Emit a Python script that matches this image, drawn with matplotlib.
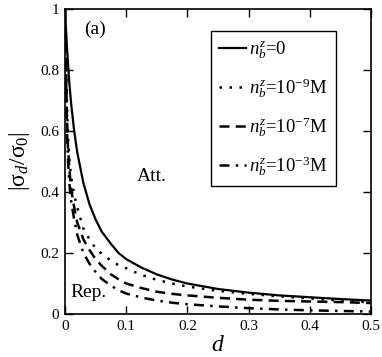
import matplotlib
matplotlib.use("Agg")
import matplotlib.pyplot as plt

plt.rcParams['font.family'] = ['Liberation Serif', 'DejaVu Serif']
plt.rcParams['mathtext.fontset'] = 'custom'
plt.rcParams['mathtext.rm'] = 'Liberation Serif'
plt.rcParams['mathtext.it'] = 'Liberation Serif:italic'
plt.rcParams['mathtext.bf'] = 'Liberation Serif:bold'

d = [0, 0.001, 0.003, 0.005, 0.007, 0.01, 0.015, 0.02, 0.03, 0.04, 0.05, 0.06,
     0.075, 0.0875, 0.1, 0.125, 0.15, 0.175, 0.2, 0.25, 0.3, 0.35, 0.4, 0.45, 0.5]
sig_0 = [1.0, 0.96, 0.88, 0.82, 0.76, 0.69, 0.60, 0.53, 0.43, 0.36, 0.31, 0.27,
         0.23, 0.20, 0.18, 0.152, 0.13, 0.113, 0.10, 0.082, 0.070, 0.061, 0.055, 0.049, 0.044]
sig_9 = [1.0, 0.9, 0.7, 0.58, 0.51, 0.45, 0.39, 0.35, 0.28, 0.245, 0.215, 0.198,
         0.175, 0.16, 0.15, 0.128, 0.112, 0.10, 0.09, 0.076, 0.066, 0.058, 0.051, 0.044, 0.038]
sig_7 = [1.0, 0.88, 0.66, 0.54, 0.48, 0.41, 0.35, 0.30, 0.245, 0.21, 0.18, 0.158,
         0.13, 0.114, 0.10, 0.085, 0.073, 0.066, 0.061, 0.053, 0.047, 0.043, 0.041, 0.039, 0.036]
sig_3 = [1.0, 0.86, 0.62, 0.5, 0.43, 0.37, 0.31, 0.26, 0.2, 0.165, 0.138, 0.115,
         0.093, 0.078, 0.067, 0.054, 0.044, 0.037, 0.032, 0.025, 0.019, 0.015, 0.012, 0.010, 0.008]

labels = [r'$n_b^z$=0', r'$n_b^z$=10$^{-9}$M', r'$n_b^z$=10$^{-7}$M', r'$n_b^z$=10$^{-3}$M']
xticks = [0, 0.1, 0.2, 0.3, 0.4, 0.5]
xticklabels = ['0', '0.1', '0.2', '0.3', '0.4', '0.5']
yticks = [0, 0.2, 0.4, 0.6, 0.8, 1.0]
yticklabels = ['0', '0.2', '0.4', '0.6', '0.8', '1']

fig = plt.figure(figsize=(3.82, 3.57), dpi=100)
ax = fig.add_axes([65/382, 43/357, 306/382, 305/357])

ax.plot(d, sig_0, color='black', lw=1.6, linestyle='-', label=labels[0])
ax.plot(d, sig_9, color='black', lw=1.8, linestyle=(0, (1, 3)), label=labels[1])
ax.plot(d, sig_7, color='black', lw=1.8, linestyle=(0, (4, 2.5)), label=labels[2])
ax.plot(d, sig_3, color='black', lw=1.8, linestyle=(0, (4, 2.5, 1, 2.5)), label=labels[3])

ax.set_xlim(0, 0.5)
ax.set_ylim(0, 1)
ax.set_xticks(xticks)
ax.set_xticklabels(xticklabels)
ax.set_yticks(yticks)
ax.set_yticklabels(yticklabels)
ax.tick_params(direction='in', top=True, right=True, length=6, width=1,
               labelsize=11, pad=4)
for s in ax.spines.values():
    s.set_linewidth(1.2)

ax.set_xlabel(r'$d$', fontsize=17, labelpad=2)
ax.set_ylabel(r'|σ$_d$/σ$_0$|', fontsize=17, labelpad=6)

ax.text(0.049, 0.934, '(a)', fontsize=14, ha='center', va='center')
ax.text(0.141, 0.45, 'Att.', fontsize=14, ha='center', va='center')
ax.text(0.008, 0.069, 'Rep.', fontsize=14, ha='left', va='center')

leg = ax.legend(loc='upper right', bbox_to_anchor=(0.886, 0.928), borderaxespad=0,
                fontsize=13.5, handlelength=1.4, handletextpad=0.2,
                labelspacing=0.8, borderpad=0.45, fancybox=False, framealpha=1)
leg.get_frame().set_edgecolor('black')
leg.get_frame().set_linewidth(1.0)

fig.savefig('out.png', dpi=100)
